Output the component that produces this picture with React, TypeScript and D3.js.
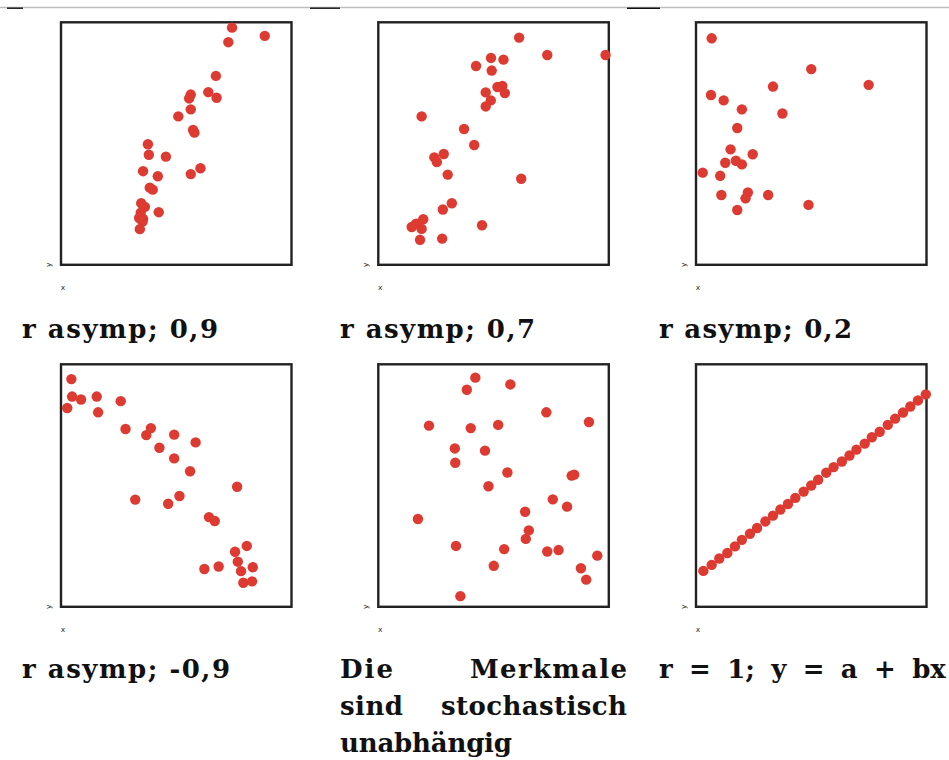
import React from "react";
import * as d3 from "d3";

// values in percent of the plotting box (0..100)
const p1x = [74.2, 88.4, 72.6, 67.2, 56.3, 55.6, 63.9, 67.5, 56.3, 50.9, 57.3, 57.9, 37.7, 38.1, 45.5, 35.6, 42.0, 56.3, 60.5, 38.5, 39.8, 34.8, 36.4, 34.6, 35.6, 33.9, 35.4, 42.4, 34.2];
const p1y = [97.8, 94.4, 91.8, 77.9, 70.2, 68.6, 71.2, 68.9, 64.1, 61.2, 55.6, 54.5, 49.7, 45.4, 44.6, 38.6, 36.5, 37.4, 39.8, 31.8, 31.0, 25.4, 23.9, 21.5, 18.9, 19.3, 17.8, 21.7, 14.7];

const p2x = [61.1, 73.3, 98.6, 48.9, 54.3, 42.4, 49.2, 51.7, 53.8, 54.9, 46.6, 48.8, 46.6, 18.8, 37.2, 41.6, 28.4, 24.3, 25.4, 30.1, 62.0, 31.9, 28.0, 19.5, 16.4, 14.5, 18.8, 45.0, 18.1, 27.7];
const p2y = [93.7, 86.5, 86.5, 85.3, 84.6, 82.0, 80.1, 73.3, 73.8, 70.8, 71.1, 67.8, 65.3, 61.2, 56.0, 49.4, 45.7, 44.3, 42.4, 37.2, 35.5, 25.4, 22.8, 18.8, 17.0, 15.6, 14.8, 16.3, 10.3, 10.8];

const p3x = [6.8, 50.0, 74.9, 33.4, 6.5, 12.0, 19.9, 37.5, 17.9, 15.0, 24.6, 12.7, 17.3, 19.9, 2.9, 10.5, 11.0, 22.5, 21.5, 31.3, 48.8, 17.9];
const p3y = [93.4, 80.7, 74.2, 73.5, 70.0, 67.8, 64.1, 62.4, 56.4, 47.6, 45.6, 42.1, 42.9, 41.4, 38.0, 36.7, 28.8, 29.8, 27.4, 28.8, 24.7, 22.6];

const p4x = [4.5, 4.8, 8.7, 15.5, 2.7, 16.1, 25.9, 28.0, 39.0, 37.0, 49.1, 58.4, 42.7, 49.1, 56.0, 76.4, 32.2, 46.5, 51.4, 64.2, 66.7, 80.6, 75.5, 76.7, 78.1, 83.2, 62.2, 68.4, 79.1, 82.9];
const p4y = [93.9, 86.7, 85.5, 86.7, 82.0, 80.2, 84.8, 73.3, 73.7, 70.8, 71.0, 67.8, 65.6, 61.2, 55.9, 49.5, 44.2, 42.5, 45.7, 37.0, 35.4, 25.1, 22.7, 18.6, 14.7, 16.3, 15.6, 16.6, 9.9, 10.5];

const p5x = [42.1, 38.4, 57.3, 72.9, 91.4, 22.0, 40.1, 52.0, 33.2, 46.3, 33.4, 56.0, 83.9, 85.0, 47.8, 75.7, 81.9, 63.7, 17.2, 65.3, 64.0, 33.7, 54.6, 73.3, 78.2, 95.0, 50.1, 87.9, 90.2, 35.6];
const p5y = [94.5, 89.5, 91.7, 80.2, 76.2, 74.7, 73.7, 75.0, 65.3, 64.4, 59.4, 55.4, 54.1, 54.5, 49.7, 44.3, 41.3, 39.2, 36.2, 31.5, 28.0, 25.1, 23.8, 22.8, 23.4, 21.1, 16.9, 15.9, 11.2, 4.4];

const p6x = [3.2, 6.8, 10.1, 13.6, 16.9, 19.9, 23.4, 26.5, 30.1, 33.4, 36.6, 39.9, 43.1, 46.7, 50.0, 53.0, 56.5, 59.7, 63.3, 66.6, 69.6, 73.2, 76.3, 79.7, 83.2, 86.4, 89.8, 93.0, 96.3, 99.7];
const p6y = [14.8, 17.3, 19.9, 22.2, 24.9, 27.6, 30.1, 32.5, 35.2, 37.6, 40.1, 42.4, 44.9, 47.5, 50.0, 52.4, 55.3, 57.6, 59.9, 62.4, 64.8, 67.3, 69.9, 72.2, 75.0, 77.6, 80.1, 82.6, 85.1, 87.6];

const captions = [
  ["r asymp; 0,9"],
  ["r asymp; 0,7"],
  ["r asymp; 0,2"],
  ["r asymp; -0,9"],
  ["Die Merkmale", "sind stochastisch", "unabhängig"],
  ["r = 1; y = a + bx"],
];

const series = [
  [p1x, p1y],
  [p2x, p2y],
  [p3x, p3y],
  [p4x, p4y],
  [p5x, p5y],
  [p6x, p6y],
];

// layout (pixels)
const boxLefts = [61, 378.3, 696];
const boxW = 230.5;
const rowTops = [22.3, 364.3];
const boxH = 242.5;
const colTextX = [22, 340, 659];
const colTextRight = [300, 627, 945];
const rowBaseline = [338, 678];
const capWidths: Record<string, number> = {
  "r asymp; 0,9": 196,
  "r asymp; 0,7": 195,
  "r asymp; 0,2": 193,
  "r asymp; -0,9": 208,
  Die: 53,
  Merkmale: 157,
  sind: 63,
  stochastisch: 186,
  "unabhängig": 172,
};
const capWordSpacing: Record<string, number> = {
  "r = 1; y = a + bx": 7.3,
};

const RED = "#dd3a32";
const TITLE_FONT = "'DejaVu Serif', serif";
const FS = 26;

function Cap({ x, y, text, anchor }: { x: number; y: number; text: string; anchor?: string }) {
  const tl = capWidths[text];
  return (
    <text
      x={x}
      y={y}
      fontSize={FS}
      fontWeight="bold"
      fontFamily={TITLE_FONT}
      fill="#111"
      textAnchor={anchor || "start"}
      textLength={tl}
      lengthAdjust={tl ? "spacing" : undefined}
      wordSpacing={capWordSpacing[text]}
    >
      {text}
    </text>
  );
}

function Panel({ idx }: { idx: number }) {
  const col = idx % 3;
  const row = Math.floor(idx / 3);
  const left = boxLefts[col];
  const top = rowTops[row];
  const x = d3.scaleLinear().domain([0, 100]).range([left, left + boxW]);
  const y = d3.scaleLinear().domain([0, 100]).range([top + boxH, top]);
  const [xs, ys] = series[idx];
  const cap = captions[idx];
  const tx = colTextX[col];
  const base = rowBaseline[row];
  const lineGap = 37;
  return (
    <g>
      <rect x={left} y={top} width={boxW} height={boxH} fill="none" stroke="#222" strokeWidth={2.4} />
      {xs.map((v, i) => (
        <circle key={i} cx={x(v)} cy={y(ys[i])} r={5.2} fill={RED} />
      ))}
      <text
        x={left - 12}
        y={top + boxH}
        fontSize={7.5}
        fontFamily="'DejaVu Sans', sans-serif"
        fill="#333"
        transform={`rotate(-90 ${left - 12} ${top + boxH})`}
        textAnchor="middle"
        dominantBaseline="middle"
      >
        y
      </text>
      <text
        x={left + 2}
        y={top + boxH + 25}
        fontSize={7.5}
        fontFamily="'DejaVu Sans', sans-serif"
        fill="#333"
        textAnchor="middle"
      >
        x
      </text>
      {cap.length === 1 ? (
        <Cap x={tx} y={base} text={cap[0]} />
      ) : (
        cap.map((line, li) => {
          const words = line.split(" ");
          const by = base + li * lineGap;
          if (words.length === 2 && li < cap.length - 1) {
            return (
              <g key={li}>
                <Cap x={tx} y={by} text={words[0]} />
                <Cap x={colTextRight[col]} y={by} text={words[1]} anchor="end" />
              </g>
            );
          }
          return <Cap key={li} x={tx} y={by} text={line} />;
        })
      )}
    </g>
  );
}

export default function App() {
  const blackSegs = [
    [7, 23],
    [310, 340],
    [627, 660],
  ];
  return (
    <svg
      width={949}
      height={760}
      style={{ position: "absolute", left: 0, top: 0, background: "#fff" }}
    >
      <rect x={0} y={0} width={949} height={760} fill="#fff" />
      <line x1={0} x2={949} y1={7.5} y2={7.5} stroke="#bdbdbd" strokeWidth={1.4} />
      {blackSegs.map((s, i) => (
        <line key={i} x1={s[0]} x2={s[1]} y1={8.2} y2={8.2} stroke="#111" strokeWidth={1.4} />
      ))}
      {[0, 1, 2, 3, 4, 5].map((i) => (
        <Panel key={i} idx={i} />
      ))}
    </svg>
  );
}
